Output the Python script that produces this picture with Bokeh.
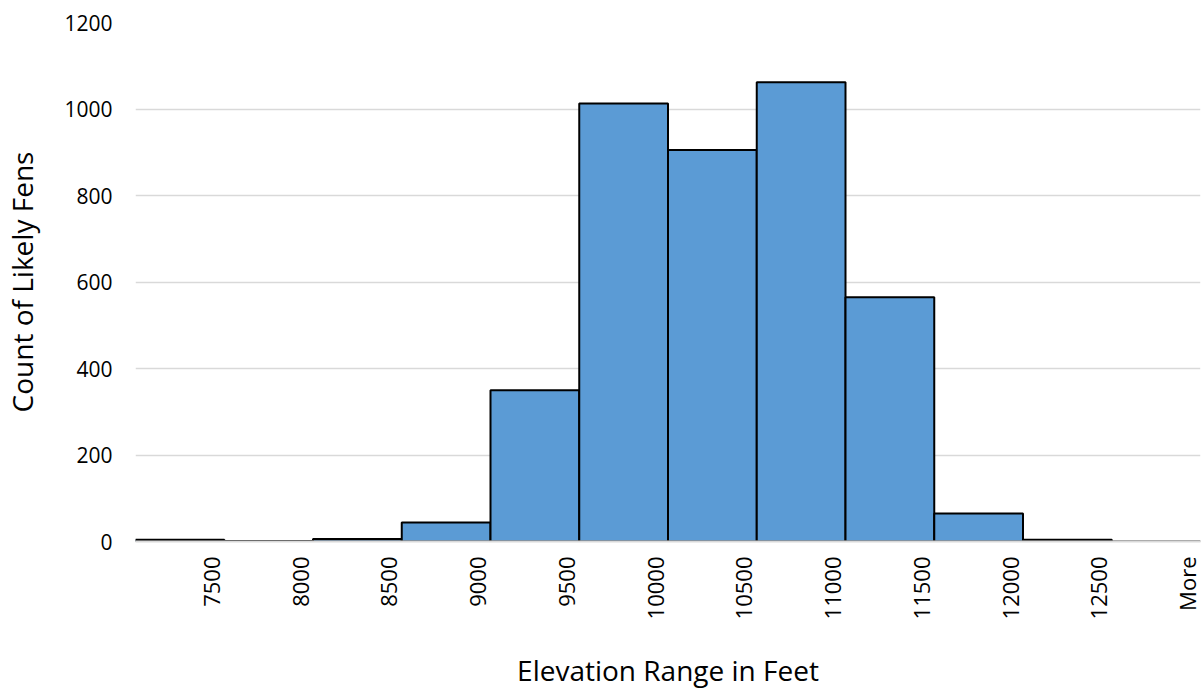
import math
from bokeh.plotting import figure
from bokeh.models import ColumnDataSource, FixedTicker, Range1d
from bokeh.embed import file_html
from bokeh.resources import INLINE

categories = ["7500", "8000", "8500", "9000", "9500", "10000", "10500",
              "11000", "11500", "12000", "12500", "More"]
counts = [4, 1, 6, 44, 350, 1013, 905, 1062, 565, 65, 4, 0]
y_ticks = [0, 200, 400, 600, 800, 1000, 1200]

n = len(categories)
centers = [i + 0.5 for i in range(n)]
label_pos = [i + 0.85 for i in range(n)]

source = ColumnDataSource(dict(x=centers, top=counts, cat=categories))

p = figure(width=1201, height=692, output_backend="svg", toolbar_location=None,
           x_range=Range1d(0, n), y_range=Range1d(0, 1200),
           min_border_left=133, min_border_right=1, min_border_top=22,
           min_border_bottom=151)
p.outline_line_color = None
p.background_fill_color = "white"
p.border_fill_color = "white"

p.vbar(x="x", top="top", width=1.0, source=source,
       fill_color="#5b9bd5", line_color="black", line_width=2)

FONT = "Open Sans"

# x axis
xa = p.xaxis[0]
xa.ticker = FixedTicker(ticks=label_pos)
xa.major_label_overrides = {pos: c for pos, c in zip(label_pos, categories)}
xa.major_label_orientation = math.pi / 2
xa.major_tick_line_color = None
xa.major_tick_out = 0
xa.major_tick_in = 0
xa.minor_tick_line_color = None
xa.axis_line_color = "#d9d9d9"
xa.axis_line_width = 2
xa.major_label_standoff = 15
xa.major_label_text_font = FONT
xa.major_label_text_font_size = "22px"
xa.major_label_text_color = "black"
xa.axis_label = "Elevation Range in Feet"
xa.axis_label_text_font = FONT
xa.axis_label_text_font_size = "28px"
xa.axis_label_text_font_style = "normal"
xa.axis_label_text_color = "black"
xa.axis_label_standoff = 29

# y axis
ya = p.yaxis[0]
ya.ticker = FixedTicker(ticks=y_ticks)
ya.axis_line_color = None
ya.major_tick_line_color = None
ya.major_tick_out = 0
ya.major_tick_in = 0
ya.minor_tick_line_color = None
ya.major_label_standoff = 23
ya.major_label_text_font = FONT
ya.major_label_text_font_size = "21px"
ya.major_label_text_color = "black"
ya.axis_label = "Count of Likely Fens"
ya.axis_label_text_font = FONT
ya.axis_label_text_font_size = "28px"
ya.axis_label_text_font_style = "normal"
ya.axis_label_text_color = "black"
ya.axis_label_standoff = 20

p.xgrid.grid_line_color = None
p.ygrid.grid_line_color = "#d9d9d9"
p.ygrid.grid_line_width = 1.5

open("out.html", "w").write(file_html(p, INLINE))
